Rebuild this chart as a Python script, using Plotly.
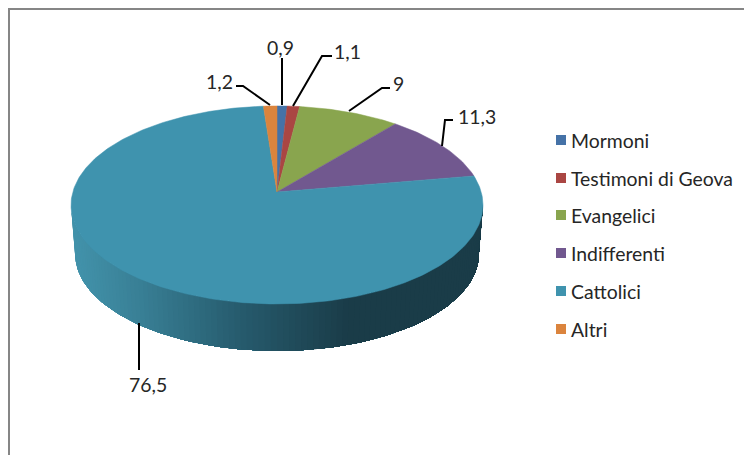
import math
import plotly.graph_objects as go

categories = ["Mormoni", "Testimoni di Geova", "Evangelici", "Indifferenti", "Cattolici", "Altri"]
values = [0.9, 1.1, 9, 11.3, 76.5, 1.2]
value_labels = ["0,9", "1,1", "9", "11,3", "76,5", "1,2"]
colors = ["#4572A7", "#AA4643", "#89A54E", "#71588F", "#3F93AE", "#DB843D"]

# Pie geometry on a pixel-like axis (perspective projection of a disc)
CX, CY, R, B, K = 277, 192, 204.2, 97.3, 0.131
DEPTH_CY, DEPTH_SCALE = 241.2, 0.98

# Leader lines and label placements
leaders = [
    [(282, 105), (282, 58)],
    [(293, 106), (322, 56), (332, 56)],
    [(349, 111), (382, 88), (390, 88)],
    [(442, 146), (445, 120), (453, 120)],
    [(139, 323), (139, 370)],
    [(270, 105), (243, 86), (236, 86)],
]
label_xy = [(280, 47), (347, 51), (398, 83), (477, 116), (148, 384), (219, 81)]
legend_y = [140, 178, 215, 253, 291, 329]
FONT = "Lato"
FONT_SIZE = 19.4
TEXT = "#262626"

def top(a):
    u, v = math.sin(a), -math.cos(a)
    w = 1 - K * v
    return CX + R * u / w, CY + B * v / w

def bottom(a):
    u, v = math.sin(a), -math.cos(a)
    w = 1 - K * v
    return CX + DEPTH_SCALE * R * u / w, DEPTH_CY + DEPTH_SCALE * B * v / w

def side_color(stops, x):
    if x <= stops[0][0]:
        c = stops[0][1]
        return "rgb(%d,%d,%d)" % c
    for (x0, c0), (x1, c1) in zip(stops, stops[1:]):
        if x <= x1:
            t = (x - x0) / (x1 - x0)
            return "rgb(%d,%d,%d)" % tuple(round(c0[i] + (c1[i] - c0[i]) * t) for i in range(3))
    return "rgb(%d,%d,%d)" % stops[-1][1]

side_stops = [(75, (66, 146, 170)), (140, (56, 126, 148)), (240, (38, 90, 108)), (345, (26, 60, 72)), (485, (26, 60, 72))]

fig = go.Figure()

# Side wall: overlapping strips along the front arc, painted left to right
a_right = math.pi / 2 + math.asin(K)
a_left = 3 * math.pi / 2 - math.asin(K)
N = 110
for i in range(N):
    s = a_left + (a_right - a_left) * i / N
    arc = [s + (a_right - s) * j / (N - i) for j in range(N - i + 1)]
    upper = [top(a) for a in arc]
    lower = [bottom(a) for a in reversed(arc)]
    pts = upper + lower + [upper[0]]
    c = side_color(side_stops, top(s)[0])
    fig.add_trace(go.Scatter(x=[p[0] for p in pts], y=[p[1] for p in pts], mode="lines",
                             fill="toself", fillcolor=c, line=dict(width=0),
                             hoverinfo="skip", showlegend=False))

# Top face: one wedge per category
total = sum(values)
cum = 0.0
for name, val, col in zip(categories, values, colors):
    s = 2 * math.pi * cum / total
    cum += val
    e = 2 * math.pi * cum / total
    n = max(4, int(val * 4))
    arc = [top(s + (e - s) * j / n) for j in range(n + 1)]
    pts = [(CX, CY)] + arc + [(CX, CY)]
    fig.add_trace(go.Scatter(x=[p[0] for p in pts], y=[p[1] for p in pts], mode="lines",
                             fill="toself", fillcolor=col, line=dict(color=col, width=0.5),
                             name=name, text=[name] * len(pts), hoverinfo="text", showlegend=False))

# Leader lines
for seg in leaders:
    fig.add_trace(go.Scatter(x=[p[0] for p in seg], y=[p[1] for p in seg], mode="lines",
                             line=dict(color="black", width=2), hoverinfo="skip", showlegend=False))

# Legend swatches
fig.add_trace(go.Scatter(x=[561] * 6, y=legend_y, mode="markers",
                         marker=dict(symbol="square", size=10, color=colors),
                         hoverinfo="skip", showlegend=False))

annotations = []
for name, y in zip(categories, legend_y):
    annotations.append(dict(x=569, y=y, text=name, xanchor="left", yanchor="middle", showarrow=False,
                            font=dict(family=FONT, size=FONT_SIZE, color=TEXT), xref="x", yref="y"))
for lab, (x, y) in zip(value_labels, label_xy):
    annotations.append(dict(x=x, y=y, text=lab, xanchor="center", yanchor="middle", showarrow=False,
                            font=dict(family=FONT, size=FONT_SIZE, color=TEXT), xref="x", yref="y"))

shapes = [
    dict(type="line", x0=9, x1=744, y0=9, y1=9, xref="x", yref="y", line=dict(color="#868686", width=2)),
    dict(type="line", x0=9, x1=9, y0=8, y1=455, xref="x", yref="y", line=dict(color="#868686", width=2)),
]

fig.update_layout(
    width=744, height=455, autosize=False,
    margin=dict(l=0, r=0, t=0, b=0, pad=0),
    paper_bgcolor="white", plot_bgcolor="white",
    xaxis=dict(visible=False, range=[0, 744], fixedrange=True),
    yaxis=dict(visible=False, range=[455, 0], fixedrange=True),
    showlegend=False, annotations=annotations, shapes=shapes,
)
fig.write_html("out.html", config=dict(displayModeBar=False),
               post_script="document.body.style.margin='0';document.documentElement.style.overflow='hidden';")
